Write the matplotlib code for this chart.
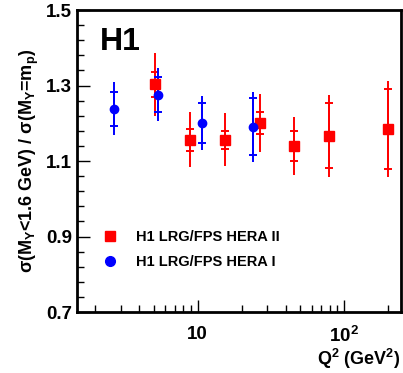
import numpy as np
import matplotlib
matplotlib.use("Agg")
import matplotlib.pyplot as plt
from matplotlib.lines import Line2D
from matplotlib.ticker import FixedLocator, LogLocator, NullFormatter, FixedFormatter

plt.rcParams["font.family"] = ["Liberation Sans", "DejaVu Sans"]
plt.rcParams["font.weight"] = "bold"
plt.rcParams["mathtext.fontset"] = "custom"
plt.rcParams["mathtext.rm"] = "Liberation Sans:bold"
plt.rcParams["mathtext.bf"] = "Liberation Sans:bold"
plt.rcParams["mathtext.it"] = "Liberation Sans:bold:italic"

# HERA I (blue)
blue_q2 = [2.7, 5.35, 10.7, 23.9]
blue_ratio = [1.239, 1.276, 1.201, 1.191]
blue_stat = [0.045, 0.046, 0.053, 0.075]
blue_tot = [0.071, 0.071, 0.072, 0.093]

# HERA II (red)
red_q2 = [5.15, 8.85, 15.3, 26.6, 45.8, 79.4, 199]
red_ratio = [1.303, 1.156, 1.156, 1.201, 1.140, 1.167, 1.185]
red_stat = [0.033, 0.029, 0.024, 0.030, 0.040, 0.086, 0.105]
red_tot = [0.084, 0.073, 0.070, 0.076, 0.077, 0.108, 0.126]

y_major = [0.7, 0.9, 1.1, 1.3, 1.5]

fig = plt.figure(figsize=(4.03, 3.73), dpi=100)
ax = fig.add_axes([0.191, 0.1635, 0.8028, 0.8095])

for q, r, s, t, c, m in [(red_q2, red_ratio, red_stat, red_tot, "#ff0000", "s"),
                         (blue_q2, blue_ratio, blue_stat, blue_tot, "#0000ff", "o")]:
    ax.errorbar(q, r, yerr=t, fmt="none", ecolor=c, elinewidth=1.4, capsize=0)
    ax.errorbar(q, r, yerr=s, fmt="none", ecolor=c, elinewidth=1.4, capsize=2.7, capthick=1.4)
    ax.plot(q, r, ls="none", marker=m, color=c, ms=6.5 if m == "s" else 6.0, zorder=5)

ax.set_xscale("log")
ax.set_xlim(1.5, 243)
ax.set_ylim(0.7, 1.5)

ax.yaxis.set_major_locator(FixedLocator(y_major))
ax.yaxis.set_minor_locator(FixedLocator(np.arange(0.7, 1.501, 0.04)))
ax.set_yticklabels(["0.7", "0.9", "1.1", "1.3", "1.5"])
ax.xaxis.set_major_locator(FixedLocator([10, 100]))
ax.xaxis.set_major_formatter(FixedFormatter(["10", "$10^{2}$"]))
ax.xaxis.set_minor_locator(LogLocator(base=10, subs=np.arange(2, 10)))
ax.xaxis.set_minor_formatter(NullFormatter())

ax.tick_params(which="both", direction="in", top=False, right=False, width=1, labelsize=13.5)
ax.tick_params(which="major", length=9)
ax.tick_params(which="minor", length=5)
ax.tick_params(axis="x", pad=10)
for sp in ax.spines.values():
    sp.set_linewidth(2)

ax.set_ylabel("σ(M$_{\\mathrm{Y}}$<1.6 GeV) / σ(M$_{\\mathrm{Y}}$=m$_{\\mathrm{p}}$)",
              fontsize=13, fontweight="bold")
ax.set_xlabel("Q$^{2}$ (GeV$^{2}$)", fontsize=13, fontweight="bold")
ax.xaxis.set_label_coords(1.0, -0.115)
ax.xaxis.label.set_ha("right")

ax.text(0.07, 0.945, "H1", transform=ax.transAxes, fontsize=23, fontweight="bold",
        va="top", ha="left")

handles = [Line2D([], [], ls="none", marker="s", color="#ff0000", ms=7),
           Line2D([], [], ls="none", marker="o", color="#0000ff", ms=7)]
ax.legend(handles, ["H1 LRG/FPS HERA II", "H1 LRG/FPS HERA I"], loc="upper left",
          bbox_to_anchor=(0.035, 0.295), frameon=False, fontsize=10.5,
          handletextpad=0.75, labelspacing=0.75, borderpad=0)

fig.savefig("out.png", dpi=100)
